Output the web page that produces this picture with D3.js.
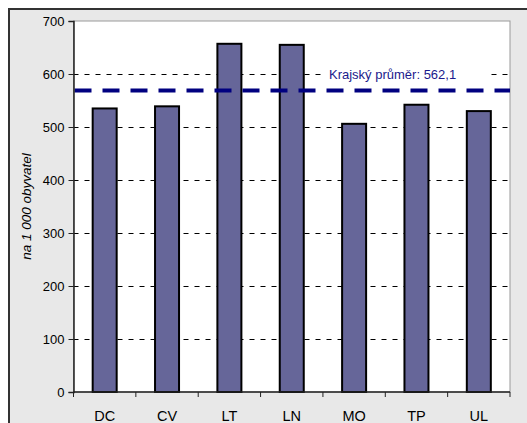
<!DOCTYPE html>
<html><head><meta charset="utf-8">
<script src="https://cdn.jsdelivr.net/npm/d3@7"></script>
<style>body{margin:0;background:#fff}svg{display:block}</style>
</head><body>
<script>
const categories = ["DC","CV","LT","LN","MO","TP","UL"];
const values = [535, 539, 657, 655, 506, 542, 530];
const yTicks = [0,100,200,300,400,500,600,700];
const averageLineValue = 569;
const averageLabel = "Krajský průměr: 562,1";
const yLabel = "na 1 000 obyvatel";

const W = 527, H = 423;
const m = {left: 73.5, right: 17, top: 21, bottom: 31};
const FONT = "Arial, 'Liberation Sans', sans-serif";
const svg = d3.select("body").append("svg").attr("width", W).attr("height", H);

// outer frame
svg.append("rect").attr("x", 9).attr("y", 9).attr("width", W).attr("height", H)
  .attr("fill", "#e8e8e8").attr("stroke", "#333").attr("stroke-width", 2);

const x = d3.scaleBand().domain(categories).range([m.left, W - m.right]).paddingInner(0).paddingOuter(0);
const y = d3.scaleLinear().domain([0, 700]).range([H - m.bottom, m.top]);

// plot area
svg.append("rect").attr("x", m.left).attr("y", m.top)
  .attr("width", W - m.right - m.left).attr("height", H - m.bottom - m.top)
  .attr("fill", "#fff").attr("stroke", "#999").attr("stroke-width", 1);

// gridlines
svg.append("g").selectAll("line").data(yTicks.filter(d => d > 0 && d < 700)).join("line")
  .attr("x1", m.left).attr("x2", W - m.right)
  .attr("y1", d => Math.round(y(d)) + 0.5).attr("y2", d => Math.round(y(d)) + 0.5)
  .attr("stroke", "#000").attr("stroke-width", 1).attr("stroke-dasharray", "5,6");

// white box behind label
const lblY = y(600);
svg.append("rect").attr("x", 324).attr("y", lblY - 8).attr("width", 166).attr("height", 15).attr("fill", "#fff");

// bars
const bw = 24;
svg.append("g").selectAll("rect").data(values).join("rect")
  .attr("x", (d, i) => x(categories[i]) + x.bandwidth() / 2 - bw / 2)
  .attr("y", d => y(d))
  .attr("width", bw)
  .attr("height", d => y(0) - y(d))
  .attr("fill", "#666699").attr("stroke", "#000").attr("stroke-width", 2);

// average line
svg.append("line").attr("x1", m.left + 1).attr("x2", W - m.right)
  .attr("y1", y(averageLineValue)).attr("y2", y(averageLineValue))
  .attr("stroke", "#000080").attr("stroke-width", 4).attr("stroke-dasharray", "17,11");

svg.append("text").attr("x", 329).attr("y", lblY + 4.5)
  .attr("font-family", FONT).attr("font-size", 13)
  .attr("fill", "#1a1a8c").text(averageLabel);

// y axis
const ya = svg.append("g").attr("transform", `translate(${m.left},0)`)
  .call(d3.axisLeft(y).tickValues(yTicks).tickSize(5).tickPadding(4).tickFormat(d3.format("d")));
ya.select(".domain").attr("stroke", "#222").attr("stroke-width", 1.5);
ya.selectAll(".tick line").attr("stroke", "#222");
ya.selectAll("text").attr("font-family", FONT).attr("font-size", 13).attr("fill", "#000");

// x axis
const xa = svg.append("g").attr("transform", `translate(0,${y(0)})`);
xa.append("line").attr("x1", m.left).attr("x2", W - m.right).attr("stroke", "#222").attr("stroke-width", 1.5);
const bounds = categories.map(c => x(c)).concat([x.range()[1]]);
xa.selectAll(".tk").data(bounds).join("line").attr("class", "tk")
  .attr("x1", d => d).attr("x2", d => d).attr("y1", 0).attr("y2", 5).attr("stroke", "#222");
xa.selectAll("text").data(categories).join("text")
  .attr("x", d => x(d) + x.bandwidth() / 2).attr("y", 29)
  .attr("text-anchor", "middle")
  .attr("font-family", FONT).attr("font-size", 14.5).attr("fill", "#000")
  .text(d => d);

// y label
svg.append("text").attr("transform", `translate(31,${(m.top + H - m.bottom) / 2}) rotate(-90)`)
  .attr("text-anchor", "middle").attr("font-style", "italic")
  .attr("font-family", FONT).attr("font-size", 13.5).attr("fill", "#000")
  .text(yLabel);
</script>
</body></html>
